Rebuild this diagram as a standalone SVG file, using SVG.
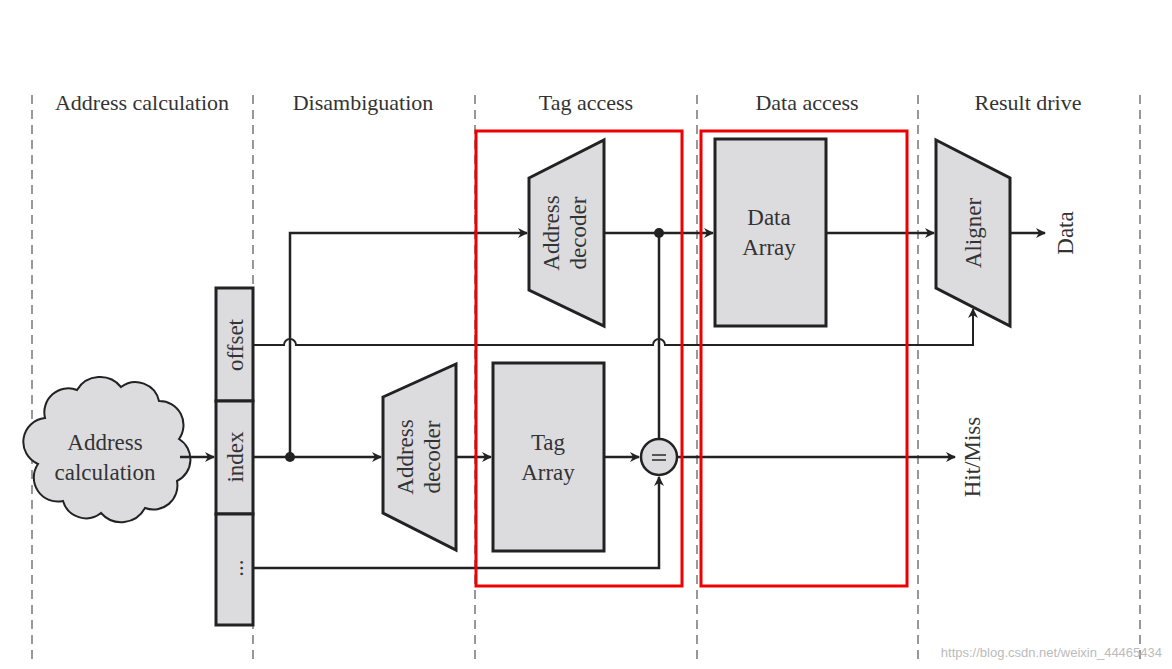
<svg xmlns="http://www.w3.org/2000/svg" width="1172" height="669" viewBox="0 0 1172 669">
<style>
text{font-family:"Liberation Serif",serif;fill:#333}
.h{font-size:22px;text-anchor:middle}
.t{font-size:23px;text-anchor:middle}
.sh{fill:#dcdcdf;stroke:#222;stroke-width:3}
.w{fill:none;stroke:#222;stroke-width:2.5}
.d{stroke:#777;stroke-width:1.5;stroke-dasharray:9,6;fill:none}
.r{fill:none;stroke:#e00;stroke-width:3}
</style>
<defs><marker id="a" markerWidth="10" markerHeight="10" refX="9" refY="5" orient="auto" markerUnits="userSpaceOnUse"><path d="M0,0L10,5L0,10L3,5z" fill="#222"/></marker></defs>
<rect width="1172" height="669" fill="#fff"/>
<g id="lanes">
<path class="d" d="M32,95V660M253,95V660M475,95V660M697,95V660M918,95V660M1140,95V660"/>
<text class="h" x="142" y="110">Address calculation</text>
<text class="h" x="363" y="110">Disambiguation</text>
<text class="h" x="586" y="110">Tag access</text>
<text class="h" x="807" y="110">Data access</text>
<text class="h" x="1028" y="110">Result drive</text>
</g>
<g id="cloud"><path class="sh" style="stroke-width:2" d="M45,418 a24,24 0 0 1 32,-28 a27,27 0 0 1 44,-3 a24,24 0 0 1 38,14 a24,24 0 0 1 20,38 a24,24 0 0 1 -2,42 a24,24 0 0 1 -32,27 a27,27 0 0 1 -44,5 a24,24 0 0 1 -38,-12 a24,24 0 0 1 -25,-37 a24,24 0 0 1 7,-46z"/>
<text class="t" x="105" y="450">Address</text><text class="t" x="105" y="480">calculation</text></g>
<g id="addr">
<rect class="sh" x="216" y="288" width="37" height="113"/><rect class="sh" x="216" y="401" width="37" height="113"/><rect class="sh" x="216" y="514" width="37" height="111"/>
<text class="t" transform="translate(243,345) rotate(-90)">offset</text>
<text class="t" transform="translate(243,457) rotate(-90)">index</text>
<text class="t" transform="translate(243,568) rotate(-90)">...</text></g>
<g id="dec1"><path class="sh" d="M383,397L456,364V550L383,513z"/>
<text class="t" transform="translate(413,457) rotate(-90)">Address</text><text class="t" transform="translate(440,457) rotate(-90)">decoder</text></g>
<g id="tag"><rect class="sh" x="493" y="363" width="111" height="188"/><text class="t" x="548" y="450">Tag</text><text class="t" x="548" y="480">Array</text></g>
<g id="dec2"><path class="sh" d="M529,178L604,140V326L529,290z"/>
<text class="t" transform="translate(559,233) rotate(-90)">Address</text><text class="t" transform="translate(586,233) rotate(-90)">decoder</text></g>
<g id="eq"><circle class="sh" style="stroke-width:2.5" cx="659" cy="457" r="18"/><path d="M652,455H666M652,460H666" stroke="#555" stroke-width="2"/></g>
<g id="data"><rect class="sh" x="715" y="139" width="111" height="187"/><text class="t" x="769" y="225">Data</text><text class="t" x="769" y="255">Array</text></g>
<g id="aligner"><path class="sh" d="M936,140L1010,178V326L936,288z"/><text class="t" transform="translate(981,233) rotate(-90)">Aligner</text></g>
<text class="t" transform="translate(1073,233) rotate(-90)">Data</text>
<text class="t" transform="translate(980,457) rotate(-90)">Hit/Miss</text>
<g id="connectors" class="w">
<path d="M180,457H214" marker-end="url(#a)"/>
<path d="M253,457H381" marker-end="url(#a)"/>
<path d="M290,457V233H527" marker-end="url(#a)"/>
<path d="M604,233H713" marker-end="url(#a)"/>
<path d="M659,233V439"/>
<path d="M826,233H934" marker-end="url(#a)"/>
<path d="M1010,233H1045" marker-end="url(#a)"/>
<path d="M253,345H284a6,6 0 0 1 12,0H653a6,6 0 0 1 12,0H973V309" marker-end="url(#a)" style="stroke-width:2"/>
<path d="M456,457H491" marker-end="url(#a)"/>
<path d="M604,457H639" marker-end="url(#a)"/>
<path d="M677,457H955" marker-end="url(#a)"/>
<path d="M253,568H659V477" marker-end="url(#a)"/>
</g>
<circle cx="290" cy="457" r="5" fill="#222"/><circle cx="659" cy="233" r="5" fill="#222"/>
<g id="red"><rect class="r" x="476" y="131" width="206" height="455"/><rect class="r" x="701" y="131" width="206" height="455"/></g>
<text x="1162" y="657" style="font-family:'Liberation Sans',sans-serif;font-size:13px;fill:#bbb;text-anchor:end">https://blog.csdn.net/weixin_44465434</text>
</svg>
